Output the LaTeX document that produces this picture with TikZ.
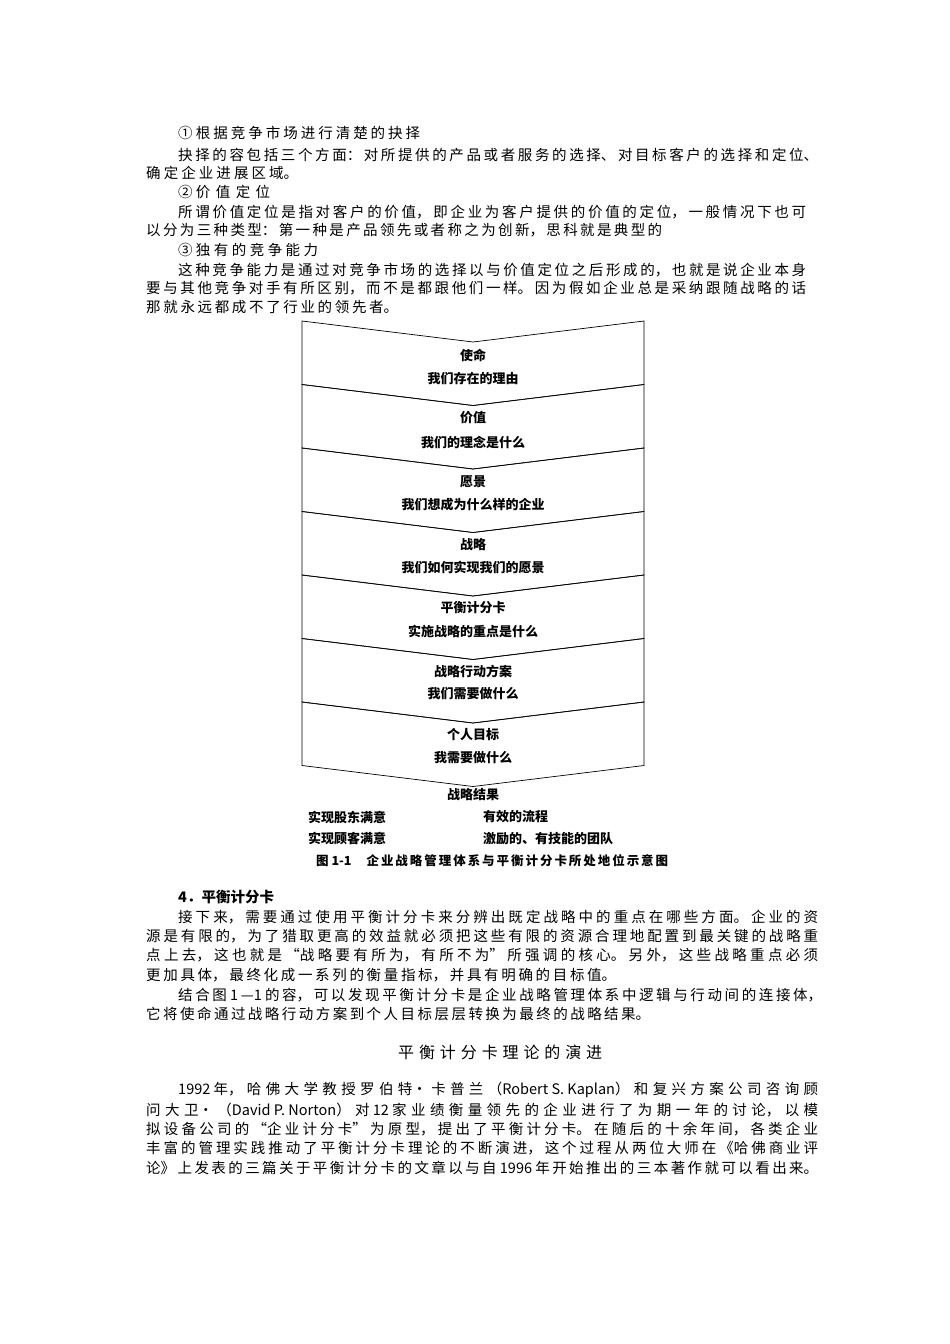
\documentclass[tikz,border=0pt]{standalone}
\usepackage{fontspec}
\setmainfont{Noto Sans CJK SC}
\XeTeXlinebreaklocale "zh"
\XeTeXlinebreakskip=0pt plus 1fil
\newcommand\jl[2]{\parbox{#1pt}{\fontsize{14.5}{16}\selectfont\parfillskip=0pt\noindent #2}}
\begin{document}
\begin{tikzpicture}[x=1pt,y=-1pt,
  txt/.style={anchor=west,inner sep=0pt},
  dg/.style={font=\fontsize{13}{15}\selectfont\bfseries,inner sep=0pt},
  band/.style={draw=black,line width=0.7pt}]
\useasboundingbox (0,0) rectangle (950,1344);
\fill[white] (0,0) rectangle (950,1344);
% top text
\node[txt] (l1) at (178,133) {\jl{242}{① 根据竞争市场进行清楚的抉择}};
\node[txt] (l2) at (178,155) {\jl{640}{抉择的容包括三个方面：对所提供的产品或者服务的选择、对目标客户的选择和定位、}};
\node[txt] (l3) at (146,173) {\jl{152}{确定企业进展区域。}};
\node[txt] (l4) at (178,192) {\jl{92}{② 价值定位}};
\node[txt] (l5) at (178,212) {\jl{628}{所谓价值定位是指对客户的价值，即企业为客户提供的价值的定位，一般情况下也可}};
\node[txt] (l6) at (146,230) {\jl{516}{以分为三种类型：第一种是产品领先或者称之为创新，思科就是典型的}};
\node[txt] (l7) at (178,250) {\jl{140}{③ 独有的竞争能力}};
\node[txt] (l8) at (178,270) {\jl{628}{这种竞争能力是通过对竞争市场的选择以与价值定位之后形成的，也就是说企业本身}};
\node[txt] (l9) at (146,288) {\jl{660}{要与其他竞争对手有所区别，而不是都跟他们一样。因为假如企业总是采纳跟随战略的话}};
\node[txt] (l10) at (146,307) {\jl{252}{那就永远都成不了行业的领先者。}};
% diagram bands
\foreach \k in {0,...,6}{
  \pgfmathsetmacro\t{321+63.5*\k}
  \pgfmathsetmacro\b{321+63.5*(\k+1)}
  \draw[band] (302,\t) -- (473,\t+21) -- (644,\t) -- (644,\b) -- (473,\b+21) -- (302,\b) -- cycle;
}
\node[dg] (a1) at (473,355) {使命};
\node[dg] (b1) at (473,379) {我们存在的理由};
\node[dg] (a2) at (473,418) {价值};
\node[dg] (b2) at (473,442) {我们的理念是什么};
\node[dg] (a3) at (473,482) {愿景};
\node[dg] (b3) at (473,505) {我们想成为什么样的企业};
\node[dg] (a4) at (473,545) {战略};
\node[dg] (b4) at (473,568) {我们如何实现我们的愿景};
\node[dg] (a5) at (473,608) {平衡计分卡};
\node[dg] (b5) at (473,631) {实施战略的重点是什么};
\node[dg] (a6) at (473,671) {战略行动方案};
\node[dg] (b6) at (473,694) {我们需要做什么};
\node[dg] (a7) at (473,735) {个人目标};
\node[dg] (b7) at (473,758) {我需要做什么};
\node[dg] (r0) at (473,795) {战略结果};
\node[dg,anchor=west] (r1) at (308,817) {实现股东满意};
\node[dg,anchor=west] (r2) at (483,817) {有效的流程};
\node[dg,anchor=west] (r3) at (308,839) {实现顾客满意};
\node[dg,anchor=west] (r4) at (483,839) {激励的、有技能的团队};
\node[dg,anchor=west,font=\fontsize{12.5}{14}\selectfont\bfseries] (cap) at (316,861) {\parbox{352pt}{\parfillskip=0pt\noindent 图 1-1\hspace{1.2em}企业战略管理体系与平衡计分卡所处地位示意图}};
% bottom text
\node[txt,font=\bfseries] (h4) at (178,897) {\fontsize{14.5}{16}\selectfont\bfseries 4．平衡计分卡};
\node[txt] (m1) at (178,917) {\jl{640}{接下来，需要通过使用平衡计分卡来分辨出既定战略中的重点在哪些方面。企业的资}};
\node[txt] (m2) at (146,936) {\jl{672}{源是有限的，为了猎取更高的效益就必须把这些有限的资源合理地配置到最关键的战略重}};
\node[txt] (m3) at (146,955) {\jl{672}{点上去，这也就是“战略要有所为，有所不为”所强调的核心。另外，这些战略重点必须}};
\node[txt] (m4) at (146,975) {\jl{470}{更加具体，最终化成一系列的衡量指标，并具有明确的目标值。}};
\node[txt] (m5) at (178,995) {\jl{644}{结合图 1—1 的容，可以发现平衡计分卡是企业战略管理体系中逻辑与行动间的连接体，}};
\node[txt] (m6) at (146,1014) {\jl{504}{它将使命通过战略行动方案到个人目标层层转换为最终的战略结果。}};
\node[txt] (hd) at (398,1052) {\parbox{204pt}{\fontsize{16}{18}\selectfont\parfillskip=0pt\noindent 平衡计分卡理论的演进}};
\node[txt] (n1) at (178,1090) {\jl{640}{1992 年，哈佛大学教授罗伯特・卡普兰（Robert S. Kaplan）和复兴方案公司咨询顾}};
\node[txt] (n2) at (146,1110) {\jl{672}{问大卫・（David P. Norton）对 12 家业绩衡量领先的企业进行了为期一年的讨论，以模}};
\node[txt] (n3) at (146,1129) {\jl{672}{拟设备公司的“企业计分卡”为原型，提出了平衡计分卡。在随后的十余年间，各类企业}};
\node[txt] (n4) at (146,1148) {\jl{672}{丰富的管理实践推动了平衡计分卡理论的不断演进，这个过程从两位大师在《哈佛商业评}};
\node[txt] (n5) at (146,1168) {\jl{672}{论》上发表的三篇关于平衡计分卡的文章以与自 1996 年开始推出的三本著作就可以看出来。}};
\end{tikzpicture}
\end{document}
